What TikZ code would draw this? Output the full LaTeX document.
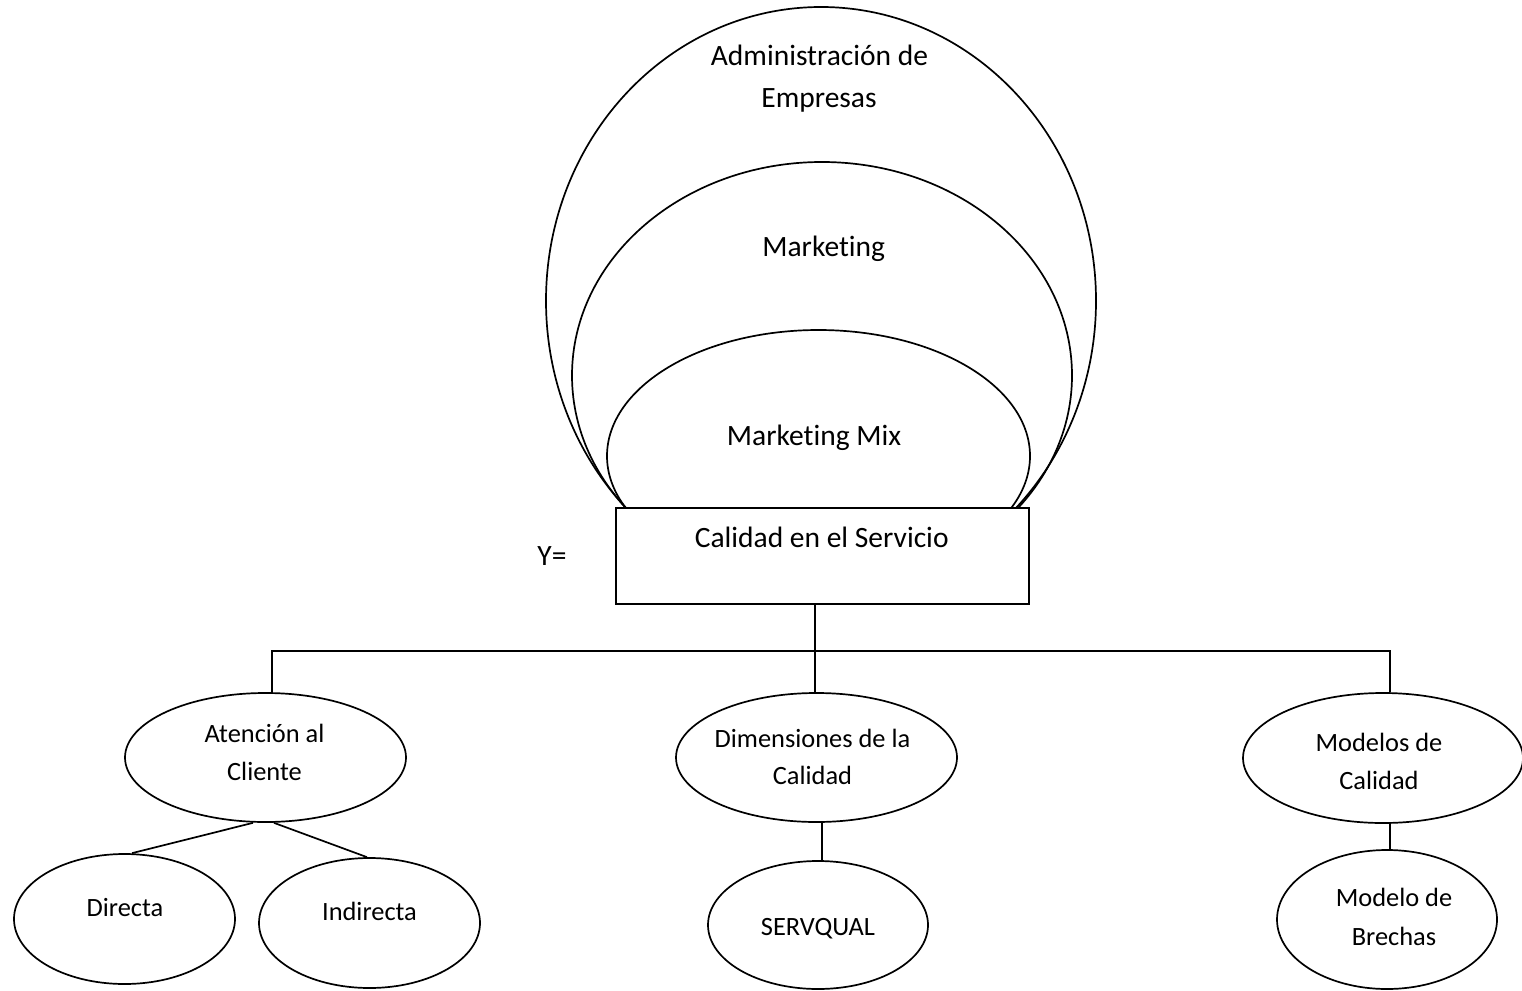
\documentclass[tikz,border=0pt]{standalone}
\usepackage{fontspec}
\setmainfont{Carlito}[Ligatures={NoCommon}]
\usetikzlibrary{shapes.geometric}
\begin{document}
\begin{tikzpicture}[x=1pt,y=-1pt,
  line width=1.7pt,
  oval/.style={draw, ellipse, inner sep=0pt},
  bigtxt/.style={inner sep=0pt, anchor=base, font=\fontsize{29.5}{35}\selectfont},
  smtxt/.style={inner sep=0pt, anchor=base, font=\fontsize{26.4}{32}\selectfont},
  conn/.style={draw, line width=1.7pt}]
\fill[white] (0,0) rectangle (1522,990);
\useasboundingbox (0,0) rectangle (1522,990);

% nested ovals
\node[oval, minimum width=550pt, minimum height=587.6pt] (adm) at (821,300.8) {};
\node[oval, minimum width=500pt, minimum height=427pt] (mkt) at (822,375.5) {};
\node[oval, minimum width=423pt, minimum height=252pt] (mix) at (818.5,456) {};

\node[bigtxt] (adm1) at (819.5,65) {Administración de};
\node[bigtxt] (adm2) at (819,107) {Empresas};
\node[bigtxt] (mkt1) at (823.7,256.7) {Marketing};
\node[bigtxt] (mix1) at (814,445.7) {Marketing Mix};

% box
\node[draw, fill=white, minimum width=413pt, minimum height=96pt, inner sep=0pt] (box) at (822.5,556) {};
\node[bigtxt] (boxt) at (821.7,547) {Calidad en el Servicio};
\node[bigtxt] (y) at (552,565) {Y=};

% second level
\node[oval, minimum width=281pt, minimum height=129pt] (atc) at (265.5,757.5) {};
\node[oval, minimum width=281pt, minimum height=129pt] (dim) at (816.5,757.5) {};
\node[oval, minimum width=280pt, minimum height=130pt] (mod) at (1383,758) {};

\node[smtxt] (atc1) at (264.5,742) {Atención al};
\node[smtxt] (atc2) at (264.5,780) {Cliente};
\node[smtxt] (dim1) at (812.5,747.3) {Dimensiones de la};
\node[smtxt] (dim2) at (812.5,784) {Calidad};
\node[smtxt] (mod1) at (1379,751.7) {Modelos de};
\node[smtxt] (mod2) at (1379,789) {Calidad};

% third level
\node[oval, minimum width=221pt, minimum height=130pt] (dir) at (124.5,919) {};
\node[oval, minimum width=221pt, minimum height=130pt] (ind) at (369.5,923) {};
\node[oval, minimum width=220pt, minimum height=128pt] (serv) at (818,925) {};
\node[oval, minimum width=220pt, minimum height=139pt] (bre) at (1387,919.5) {};

\node[smtxt] (dir1) at (125,916) {Directa};
\node[smtxt] (ind1) at (369.5,920.7) {Indirecta};
\node[smtxt] (serv1) at (818,935) {SERVQUAL};
\node[smtxt] (bre1) at (1394,906.7) {Modelo de};
\node[smtxt] (bre2) at (1394,945) {Brechas};

% connectors
\coordinate (bl) at (272,651);
\coordinate (br) at (1390,651);
\draw[conn] ([xshift=-7.5pt]box.south) -- ([xshift=-7.5pt]box.south |- dim.north);
\draw[conn] ([xshift=6.5pt]atc.north) -- (bl) -- (br) -- ([xshift=7pt]mod.north);
\draw[conn] ([xshift=-12.5pt]atc.south) -- ([xshift=7.5pt]dir.north);
\draw[conn] ([xshift=8.5pt]atc.south) -- ([xshift=-2.5pt]ind.north);
\draw[conn] ([xshift=5.5pt]dim.south) -- ([xshift=5.5pt]dim.south |- serv.north);
\draw[conn] ([xshift=7pt]mod.south) -- ([xshift=7pt]mod.south |- bre.north);
\end{tikzpicture}
\end{document}
